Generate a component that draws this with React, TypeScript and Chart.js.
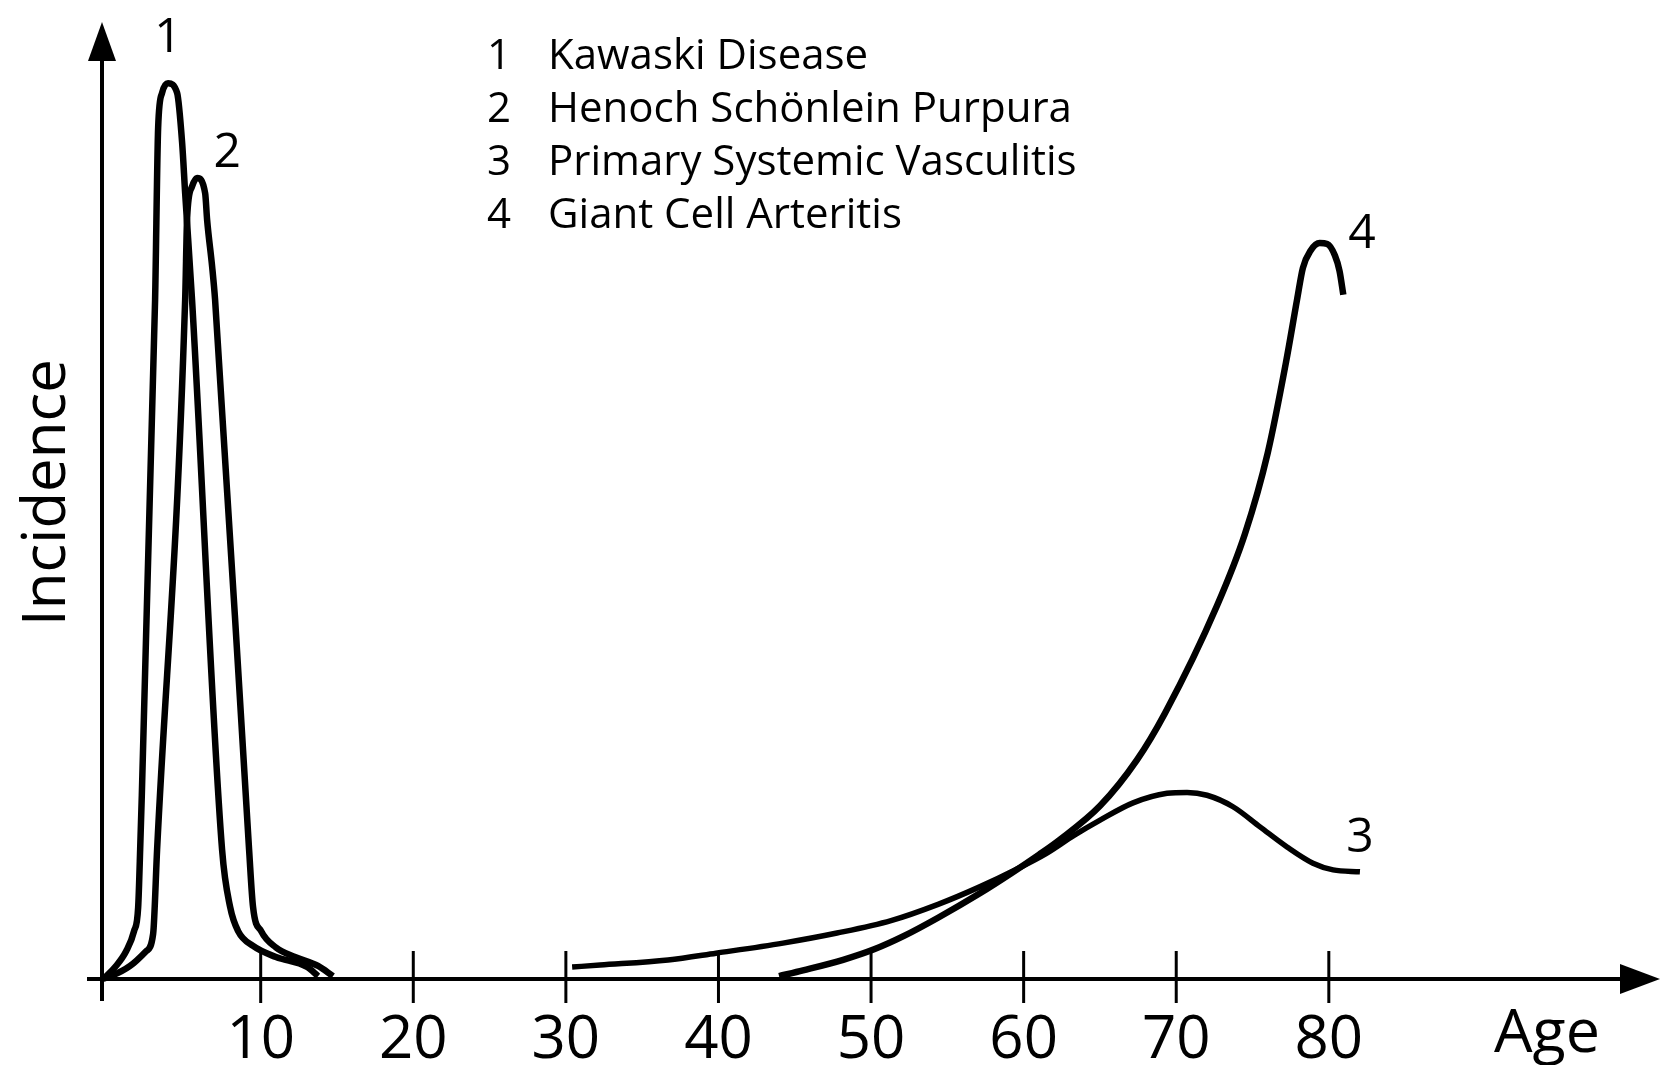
import React, { useEffect, useRef } from "react";
import { Chart, registerables } from "chart.js";

Chart.register(...registerables);

// ---- Data (age in years, incidence in arbitrary units 0-100) ----
const kawasakiAges = [-0.3, 0.46, 1.18, 1.7, 1.97, 2.1, 3.08, 3.28, 3.54, 3.93, 4.52, 4.85, 5.05, 5.5, 7.47, 8.0, 8.52, 9.5, 11.0, 13.04, 13.76];
const kawasakiValues = [0, 1.25, 2.9, 5.0, 7.5, 13.5, 71.0, 89.0, 92.6, 93.6, 92.6, 87.4, 82.1, 71.0, 13.5, 7.5, 5.0, 3.45, 2.3, 1.25, 0.3];

const hspAges = [-0.4, 0.2, 1.44, 2.49, 2.95, 3.21, 5.05, 5.18, 5.5, 5.83, 6.36, 6.49, 6.82, 7.01, 9.24, 9.5, 10.03, 11.0, 12.25, 13.76, 14.74];
const hspValues = [0, 0.3, 1.36, 2.9, 4.7, 13.5, 71.0, 79.6, 82.8, 83.7, 82.1, 79.3, 74.4, 71.0, 13.5, 7.5, 5.0, 3.3, 2.3, 1.36, 0.3];

const psvAges = [30.41, 32.24, 36.7, 39.84, 44.23, 47.77, 51.31, 54.39, 57.08, 59.7, 61.47, 63.3, 65.01, 67.17, 69.4, 70.71, 72.02, 73.72, 75.49, 77.26, 78.96, 80.28, 82.04];
const psvValues = [1.25, 1.46, 1.99, 2.7, 3.75, 4.8, 6.1, 7.8, 9.6, 11.6, 13.1, 15.0, 16.6, 18.4, 19.4, 19.5, 19.2, 18.0, 15.9, 13.8, 12.1, 11.4, 11.2];

const gcaAges = [43.97, 45.54, 48.17, 50.2, 52.16, 54.39, 57.08, 59.24, 61.01, 62.32, 65.01, 67.43, 69.27, 72.67, 74.5, 76.0, 77.2, 77.92, 78.3, 78.8, 79.4, 79.9, 80.4, 80.7, 80.95];
const gcaValues = [0.3, 0.9, 2.0, 3.1, 4.5, 6.4, 8.9, 11.1, 13.0, 14.5, 18.1, 22.9, 27.8, 39.0, 46.5, 55.0, 64.5, 71.0, 74.3, 76.1, 76.9, 76.8, 75.6, 74.0, 71.5];

const xTickValues = [10, 20, 30, 40, 50, 60, 70, 80];

const curveLabels = ["1", "2", "3", "4"];
const curveLabelAges = [3.93, 7.8, 82.04, 82.18];
const curveLabelValues = [96.9, 84.8, 13.3, 76.4];

const legendNumbers = ["1", "2", "3", "4"];
const legendNames = ["Kawaski Disease", "Henoch Schönlein Purpura", "Primary Systemic Vasculitis", "Giant Cell Arteritis"];

const xTitle = "Age";
const yTitle = "Incidence";

const FONT = '"Open Sans", "DejaVu Sans", sans-serif';

function toPoints(ages: number[], values: number[]) {
  return ages.map((a, i) => ({ x: a, y: values[i] }));
}

const decorPlugin = {
  id: "decor",
  beforeDatasetsDraw(chart: any) {
    const { ctx, chartArea, scales } = chart;
    const xs = scales.x;
    const ys = scales.y;
    const x0 = chartArea.left;
    const y0 = ys.getPixelForValue(0);
    const W = chart.width;
    ctx.save();
    ctx.strokeStyle = "#000";
    ctx.fillStyle = "#000";
    ctx.lineCap = "butt";

    // y axis with arrow
    ctx.lineWidth = 4;
    ctx.beginPath();
    ctx.moveTo(x0, y0 + 22);
    ctx.lineTo(x0, chartArea.top + 36);
    ctx.stroke();
    ctx.beginPath();
    ctx.moveTo(x0, chartArea.top);
    ctx.lineTo(x0 - 14, chartArea.top + 39);
    ctx.lineTo(x0 + 14, chartArea.top + 39);
    ctx.closePath();
    ctx.fill();

    // x axis with arrow
    ctx.beginPath();
    ctx.moveTo(x0 - 15, y0);
    ctx.lineTo(W - 38, y0);
    ctx.stroke();
    ctx.beginPath();
    ctx.moveTo(W, y0);
    ctx.lineTo(W - 40, y0 - 15);
    ctx.lineTo(W - 40, y0 + 15);
    ctx.closePath();
    ctx.fill();

    // ticks + labels
    ctx.lineWidth = 3;
    ctx.font = `60px ${FONT}`;
    ctx.textAlign = "center";
    ctx.textBaseline = "alphabetic";
    xTickValues.forEach((v) => {
      const px = xs.getPixelForValue(v);
      ctx.beginPath();
      ctx.moveTo(px, y0 - 28);
      ctx.lineTo(px, y0 + 24);
      ctx.stroke();
      ctx.fillText(String(v), px, y0 + 79);
    });

    // axis titles
    ctx.font = `61px ${FONT}`;
    ctx.textAlign = "center";
    ctx.fillText(xTitle, W - 113, y0 + 73);

    ctx.save();
    ctx.translate(65, (chartArea.top + y0) / 2 - 8);
    ctx.rotate(-Math.PI / 2);
    ctx.font = `60px ${FONT}`;
    ctx.textAlign = "center";
    ctx.textBaseline = "alphabetic";
    ctx.fillText(yTitle, 0, 0);
    ctx.restore();

    // curve labels
    ctx.font = `48px ${FONT}`;
    ctx.textAlign = "center";
    curveLabels.forEach((t, i) => {
      ctx.fillText(t, xs.getPixelForValue(curveLabelAges[i]), ys.getPixelForValue(curveLabelValues[i]));
    });

    // legend text
    ctx.font = `42px ${FONT}`;
    legendNames.forEach((name, i) => {
      const base = 69 + i * 53;
      ctx.textAlign = "center";
      ctx.fillText(legendNumbers[i], 499, base);
      ctx.textAlign = "left";
      ctx.fillText(name, 548, base);
    });

    ctx.restore();
  },
};

export default function App() {
  const canvasRef = useRef<HTMLCanvasElement | null>(null);

  useEffect(() => {
    const canvas = canvasRef.current;
    if (!canvas) return;
    const common = {
      borderColor: "#000",
      backgroundColor: "#000",
      pointRadius: 0,
      fill: false,
      cubicInterpolationMode: "monotone" as const,
      borderJoinStyle: "round" as const,
      clip: false as any,
    };
    const chart = new Chart(canvas, {
      type: "line",
      data: {
        datasets: [
          { ...common, label: legendNames[0], data: toPoints(kawasakiAges, kawasakiValues), borderWidth: 6.5 },
          { ...common, label: legendNames[1], data: toPoints(hspAges, hspValues), borderWidth: 6.5 },
          { ...common, label: legendNames[2], data: toPoints(psvAges, psvValues), borderWidth: 5.5 },
          { ...common, label: legendNames[3], data: toPoints(gcaAges, gcaValues), borderWidth: 6.5 },
        ],
      },
      options: {
        animation: false,
        responsive: false,
        devicePixelRatio: 1,
        events: [],
        layout: { padding: { left: 102, right: 26, top: 22, bottom: 86 } },
        scales: {
          x: { type: "linear", min: -0.4, max: 100, display: false },
          y: { type: "linear", min: 0, max: 100, display: false },
        },
        plugins: {
          legend: { display: false },
          tooltip: { enabled: false },
          title: { display: false },
        },
      },
      plugins: [decorPlugin],
    });
    return () => chart.destroy();
  }, []);

  return (
    <div style={{ position: "fixed", left: 0, top: 0, width: 1660, height: 1065, background: "#fff" }}>
      <canvas ref={canvasRef} width={1660} height={1065} style={{ display: "block" }} />
    </div>
  );
}
